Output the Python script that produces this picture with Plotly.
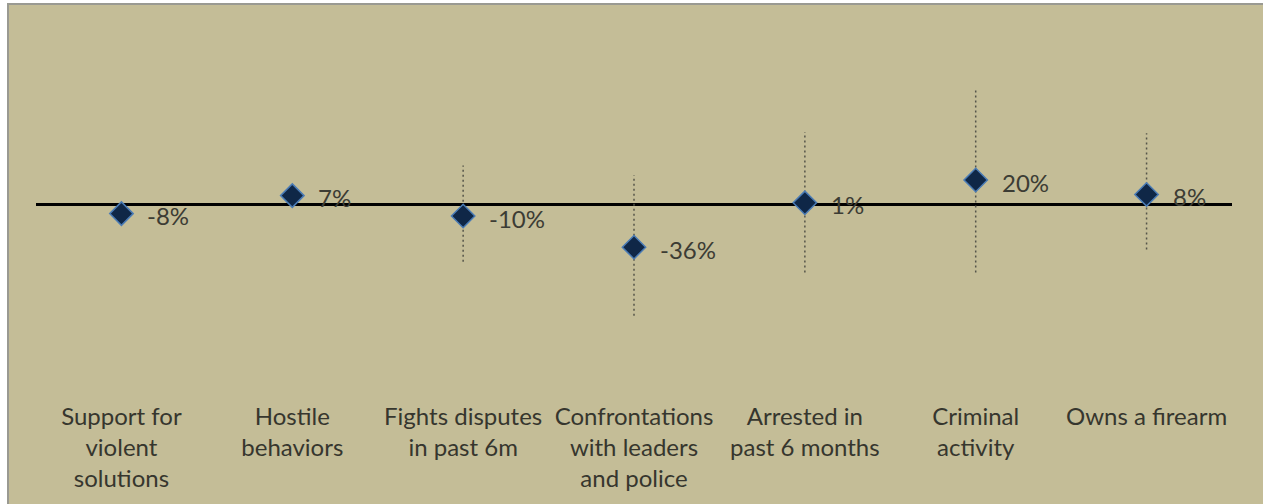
import plotly.graph_objects as go

categories = ["Support for<br>violent<br>solutions", "Hostile<br>behaviors",
              "Fights disputes<br>in past 6m", "Confrontations<br>with leaders<br>and police",
              "Arrested in<br>past 6 months", "Criminal<br>activity", "Owns a firearm"]
values = [-8, 7, -10, -36, 1, 20, 8]
value_labels = ["-8%", "7%", "-10%", "-36%", "1%", "20%", "8%"]
ci_upper = [None, None, 32, 24, 60, 97, 59]
ci_lower = [None, None, -48, -93, -57, -57, -38]

TAN = "#C4BD97"
FONT = "Lato, Carlito, sans-serif"
x_idx = list(range(len(categories)))

fig = go.Figure()

# dotted confidence ranges
ex, ey = [], []
for i, lo, hi in zip(x_idx, ci_lower, ci_upper):
    if lo is None or hi is None:
        continue
    ex += [i, i, None]
    ey += [lo, hi, None]
fig.add_trace(go.Scatter(x=ex, y=ey, mode="lines",
                         line=dict(color="#55554a", width=1.5, dash="2px,3px"),
                         hoverinfo="skip", showlegend=False))

fig.add_trace(go.Scatter(x=x_idx, y=values, mode="markers",
                         marker=dict(symbol="diamond", size=18, color="#0f2747",
                                     line=dict(color="#4a7bb5", width=1.5)),
                         showlegend=False))

for i, v, t in zip(x_idx, values, value_labels):
    fig.add_annotation(x=i, y=v, text=t, showarrow=False, xanchor="left", yanchor="middle",
                       xshift=24, yshift=-2,
                       font=dict(family=FONT, size=24, color="#3c3c34"))

L, R, T, B = 36, 31, 30, 104
W, H = 1263, 504
pw, ph = W - L - R, H - T - B
fig.add_shape(type="rect", xref="paper", yref="paper", layer="below",
              x0=(8 - L) / pw, x1=(W + 10 - L) / pw,
              y0=(H - B - (H + 10)) / ph, y1=(H - B - 4) / ph,
              fillcolor=TAN, line=dict(color="#9a9a92", width=2))

fig.update_layout(
    width=W, height=H,
    margin=dict(l=L, r=R, t=T, b=B),
    paper_bgcolor="white", plot_bgcolor=TAN,
    xaxis=dict(range=[-0.5, 6.5], tickmode="array", tickvals=x_idx, ticktext=categories,
               showgrid=False, zeroline=False, showline=False, ticks="",
               tickfont=dict(family=FONT, size=24, color="#36362e")),
    yaxis=dict(range=[-163.3, 145], showgrid=False, showticklabels=False, ticks="",
               zeroline=True, zerolinecolor="black", zerolinewidth=3, showline=False),
)

fig.write_html("out.html", config={"displayModeBar": False},
               post_script="document.body.style.margin='0';document.body.style.overflow='hidden';")
